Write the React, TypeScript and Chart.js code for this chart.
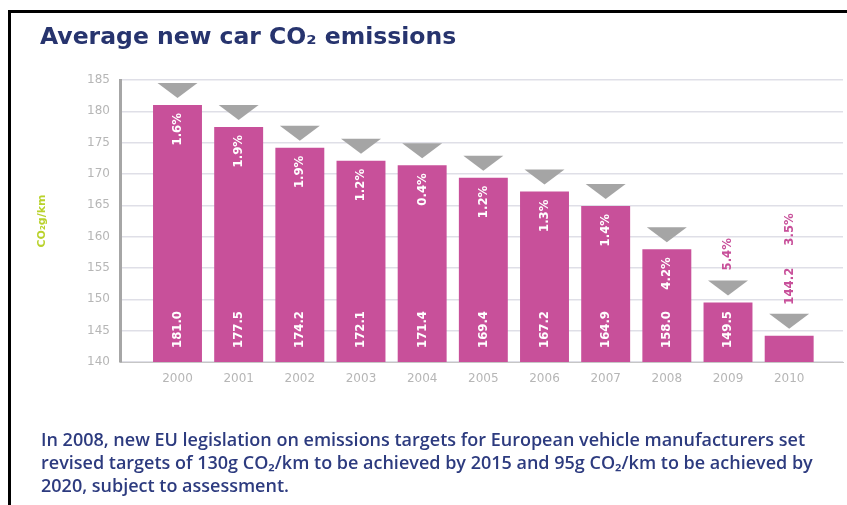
import React, { useEffect, useRef } from "react";
import { Chart, registerables } from "chart.js";

Chart.register(...registerables);

// ---- data ----
const years = ["2000", "2001", "2002", "2003", "2004", "2005", "2006", "2007", "2008", "2009", "2010"];
const emissions = [181.0, 177.5, 174.2, 172.1, 171.4, 169.4, 167.2, 164.9, 158.0, 149.5, 144.2];
const changes = ["1.6%", "1.9%", "1.9%", "1.2%", "0.4%", "1.2%", "1.3%", "1.4%", "4.2%", "5.4%", "3.5%"];
const yMin = 140;
const yMax = 185;
const yStep = 5;
const titleText = "Average new car CO\u2082 emissions";
const yAxisTitle = "CO\u2082g/km";
const noteLines = [
  "In 2008, new EU legislation on emissions targets for European vehicle manufacturers set",
  "revised targets of 130g CO\u2082/km to be achieved by 2015 and 95g CO\u2082/km to be achieved by",
  "2020, subject to assessment.",
];

// ---- styles ----
const BAR = "#c8509a";
const TRI = "#a5a5a5";
const AXIS_TXT = "#b6b6b6";
const LBL_FONT = "bold 13px 'DejaVu Sans Condensed', 'Liberation Sans Narrow', sans-serif";

const markerPlugin = {
  id: "markers",
  afterDatasetsDraw(chart: any) {
    const meta = chart.getDatasetMeta(0);
    const ctx = chart.ctx as CanvasRenderingContext2D;
    const floor = chart.scales.y.getPixelForValue(yMin);
    ctx.save();
    ctx.font = LBL_FONT;
    const drawRot = (text: string, ax: number, ay: number, align: CanvasTextAlign, color: string) => {
      ctx.save();
      ctx.translate(ax, ay);
      ctx.rotate(-Math.PI / 2);
      ctx.textAlign = align;
      ctx.textBaseline = "middle";
      ctx.fillStyle = color;
      ctx.fillText(text, 0, 0);
      ctx.restore();
    };
    meta.data.forEach((bar: any, i: number) => {
      const { x, y } = bar.getProps(["x", "y"], true);
      const base = floor;
      const triTop = y - 22;
      const triTip = y - 7;
      const half = 20;
      ctx.fillStyle = TRI;
      ctx.beginPath();
      ctx.moveTo(x - half, triTop);
      ctx.lineTo(x + half, triTop);
      ctx.lineTo(x, triTip);
      ctx.closePath();
      ctx.fill();

      const valueText = emissions[i].toFixed(1);
      const pctText = changes[i];
      const wVal = ctx.measureText(valueText).width;
      const wPct = ctx.measureText(pctText).width;
      const h = base - y;
      if (h > wVal + wPct + 40) {
        drawRot(valueText, x, base - 14, "left", "#ffffff");
        drawRot(pctText, x, y + 8, "right", "#ffffff");
      } else if (h > wVal + 20) {
        drawRot(valueText, x, base - 14, "left", "#ffffff");
        drawRot(pctText, x, triTop - 10, "left", BAR);
      } else {
        drawRot(valueText, x, triTop - 9, "left", BAR);
        drawRot(pctText, x, triTop - 9 - wVal - 22, "left", BAR);
      }
    });
    ctx.restore();
  },
};

export default function App() {
  const ref = useRef<HTMLCanvasElement | null>(null);

  useEffect(() => {
    if (!ref.current) return;
    const chart = new Chart(ref.current, {
      type: "bar",
      data: {
        datasets: [
          {
            data: emissions.map((v, i) => ({ x: i, y: v })),
            backgroundColor: BAR,
            borderWidth: 0,
            barPercentage: 0.8,
            categoryPercentage: 1,
          },
        ],
      },
      options: {
        animation: false,
        responsive: false,
        maintainAspectRatio: false,
        layout: { padding: { left: 30, top: 80, right: 4, bottom: 0 } },
        plugins: {
          legend: { display: false },
          tooltip: { enabled: false },
          title: { display: false },
        },
        scales: {
          x: {
            type: "linear",
            min: -0.94,
            max: 10.88,
            offset: false,
            grid: { display: false, offset: false, drawTicks: false },
            border: { display: true, color: "#c6c6c6", width: 1 },
            afterBuildTicks: (s: any) => {
              s.ticks = years.map((_, i) => ({ value: i }));
            },
            afterFit: (s: any) => {
              s.height = 143;
            },
            ticks: {
              autoSkip: false,
              maxRotation: 0,
              padding: 10,
              color: AXIS_TXT,
              font: { size: 12, family: "'DejaVu Sans', sans-serif" },
              callback: (v: any) => years[Math.round(Number(v))] ?? "",
            },
          },
          y: {
            min: yMin,
            max: yMax,
            afterFit: (s: any) => {
              s.width = 90;
            },
            ticks: {
              stepSize: yStep,
              padding: 10,
              color: AXIS_TXT,
              font: { size: 12, family: "'DejaVu Sans', sans-serif" },
            },
            grid: { color: "#dfdfe7", lineWidth: 1.5, drawTicks: false },
            border: { color: "#a6a6a6", width: 3 },
            title: {
              display: true,
              text: yAxisTitle,
              color: "#b9d22c",
              font: { size: 11, weight: "bold", family: "'DejaVu Sans', sans-serif" },
              padding: { top: 6, bottom: 0 },
            },
          },
        },
      } as any,
      plugins: [markerPlugin],
    });
    return () => chart.destroy();
  }, []);

  return (
    <div
      style={{
        position: "absolute",
        left: 0,
        top: 0,
        width: 847,
        height: 505,
        background: "#ffffff",
        overflow: "hidden",
      }}
    >
      <canvas
        ref={ref}
        width={847}
        height={505}
        style={{ position: "absolute", left: 0, top: 0, width: 847, height: 505 }}
      />
      <div
        style={{
          position: "absolute",
          left: 8,
          top: 10,
          right: 0,
          bottom: 0,
          borderTop: "3px solid #000",
          borderLeft: "3px solid #000",
          pointerEvents: "none",
        }}
      />
      <div
        style={{
          position: "absolute",
          left: 40,
          top: 25,
          fontFamily: "'DejaVu Sans', sans-serif",
          fontWeight: "bold",
          fontSize: 23.5,
          lineHeight: "23.5px",
          color: "#27346e",
          whiteSpace: "nowrap",
        }}
      >
        {titleText}
      </div>
      <div
        style={{
          position: "absolute",
          left: 41,
          top: 428,
          fontFamily: "'Open Sans', sans-serif",
          fontWeight: 600,
          fontSize: 18,
          lineHeight: "23px",
          color: "#2d3b7f",
          whiteSpace: "nowrap",
        }}
      >
        {noteLines.map((l, i) => (
          <div key={i}>{l}</div>
        ))}
      </div>
    </div>
  );
}
